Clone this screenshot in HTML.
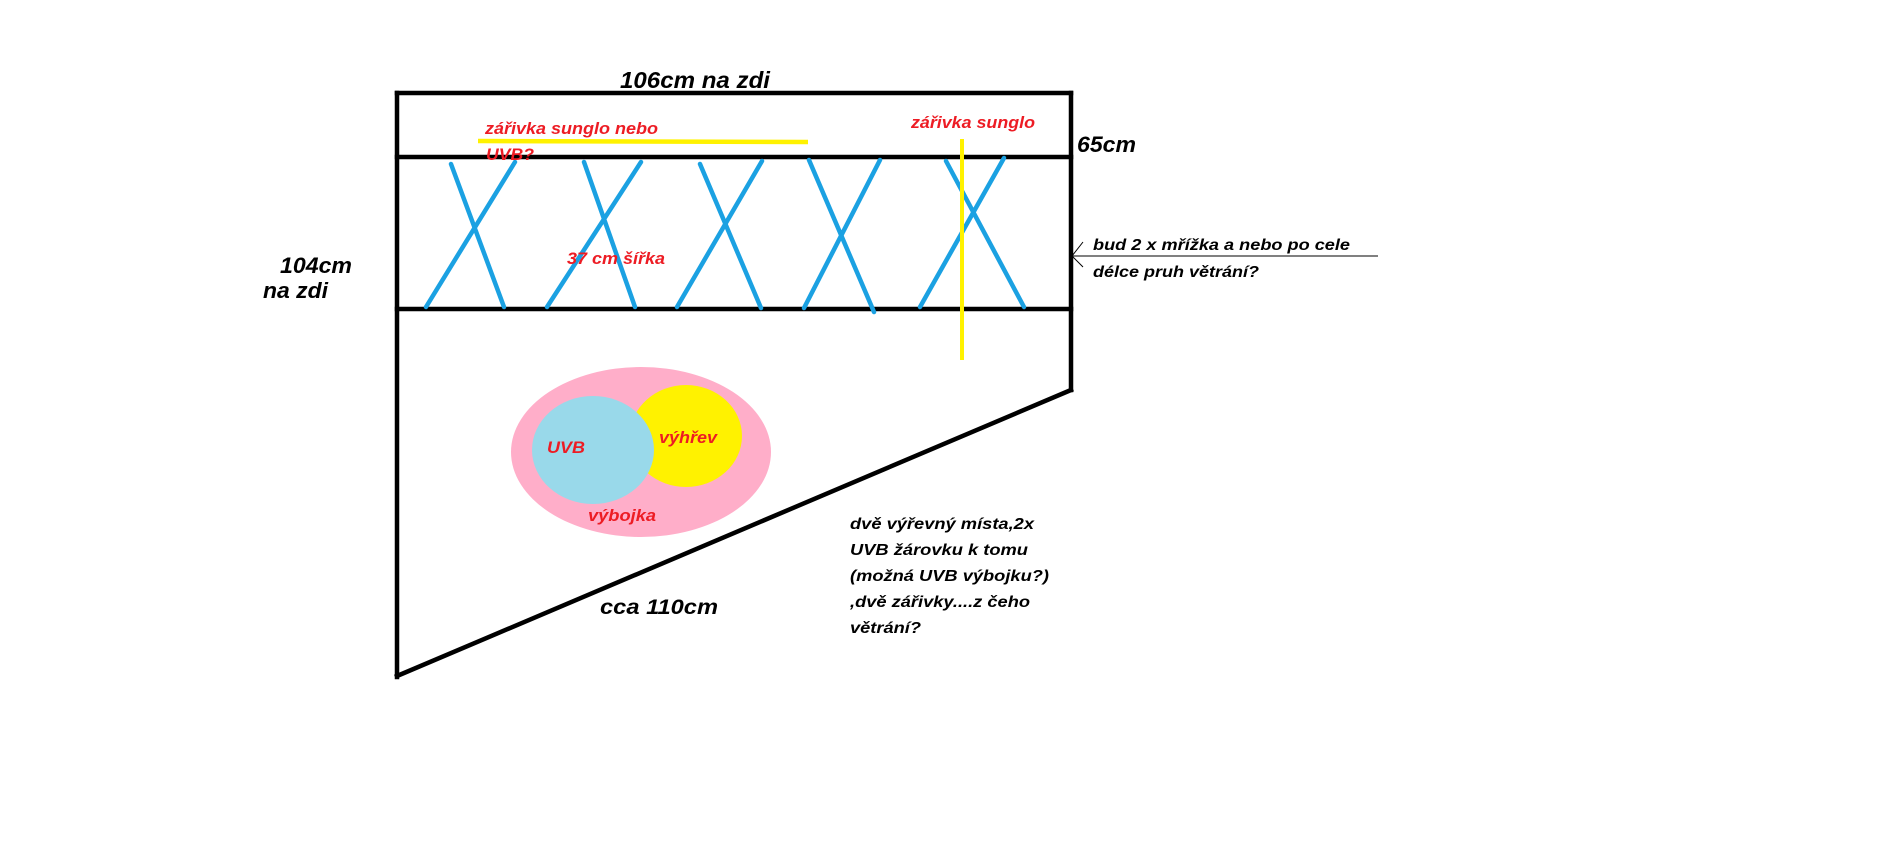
<!DOCTYPE html>
<html><head><meta charset="utf-8"><style>
html,body{margin:0;padding:0;background:#fff;}
svg{display:block}
text{font-family:"Liberation Sans",sans-serif;font-weight:bold;font-style:italic}
</style></head><body>
<svg width="1903" height="866" viewBox="0 0 1903 866" xmlns="http://www.w3.org/2000/svg">
<g stroke="#000" stroke-width="4.5" fill="none" stroke-linecap="square">
<line x1="397" y1="93" x2="1071" y2="93"/>
<line x1="397" y1="157" x2="1071" y2="157"/>
<line x1="397" y1="309" x2="1071" y2="309"/>
<line x1="397" y1="93" x2="397" y2="677"/>
<line x1="1071" y1="93" x2="1071" y2="390"/>
<line x1="1071" y1="390" x2="397" y2="676"/>
</g>
<g stroke="#1ba1e2" stroke-width="4.5" stroke-linecap="round">
<line x1="451" y1="164" x2="504" y2="307"/><line x1="515" y1="162" x2="426" y2="307"/>
<line x1="584" y1="162" x2="635" y2="307"/><line x1="641" y1="162" x2="547" y2="307"/>
<line x1="700" y1="164" x2="761" y2="308"/><line x1="762" y1="161" x2="677" y2="307"/>
<line x1="809" y1="160" x2="874" y2="312"/><line x1="880" y1="160" x2="804" y2="308"/>
<line x1="946" y1="161" x2="1024" y2="307"/><line x1="1004" y1="158" x2="920" y2="307"/>
</g>
<line x1="478" y1="141" x2="808" y2="142" stroke="#fff200" stroke-width="4.5"/>
<line x1="962" y1="139" x2="962" y2="360" stroke="#fff200" stroke-width="4"/>
<line x1="1072" y1="256" x2="1378" y2="256" stroke="#000" stroke-width="1"/>
<polyline points="1083,242 1072,256 1083,267" stroke="#000" stroke-width="1" fill="none"/>
<ellipse cx="641" cy="452" rx="130" ry="85" fill="#ffaec9"/>
<ellipse cx="686" cy="436" rx="56" ry="51" fill="#fff200"/>
<ellipse cx="593" cy="450" rx="61" ry="54" fill="#99d9ea"/>
<g fill="#000">
<text x="620" y="88" font-size="23" textLength="150" lengthAdjust="spacingAndGlyphs">106cm na zdi</text>
<text x="1077" y="152" font-size="22" textLength="59" lengthAdjust="spacingAndGlyphs">65cm</text>
<text x="280" y="273" font-size="22" textLength="72" lengthAdjust="spacingAndGlyphs">104cm</text>
<text x="263" y="298" font-size="22" textLength="65" lengthAdjust="spacingAndGlyphs">na zdi</text>
<text x="1093" y="250" font-size="16" textLength="257" lengthAdjust="spacingAndGlyphs">bud 2 x mřížka a nebo po cele</text>
<text x="1093" y="277" font-size="16" textLength="166" lengthAdjust="spacingAndGlyphs">délce pruh větrání?</text>
<text x="600" y="614" font-size="21" textLength="118" lengthAdjust="spacingAndGlyphs">cca 110cm</text>
<g font-size="16">
<text x="850" y="529" textLength="184" lengthAdjust="spacingAndGlyphs">dvě výřevný místa,2x</text>
<text x="850" y="555" textLength="178" lengthAdjust="spacingAndGlyphs">UVB žárovku k tomu</text>
<text x="850" y="581" textLength="199" lengthAdjust="spacingAndGlyphs">(možná UVB výbojku?)</text>
<text x="850" y="607" textLength="180" lengthAdjust="spacingAndGlyphs">,dvě zářivky....z čeho</text>
<text x="850" y="633" textLength="71" lengthAdjust="spacingAndGlyphs">větrání?</text>
</g>
</g>
<g fill="#ed1c24" font-size="17">
<text x="485" y="134" textLength="173" lengthAdjust="spacingAndGlyphs">zářivka sunglo nebo</text>
<text x="486" y="160" textLength="48" lengthAdjust="spacingAndGlyphs">UVB?</text>
<text x="911" y="128" textLength="124" lengthAdjust="spacingAndGlyphs">zářivka sunglo</text>
<text x="567" y="264" textLength="98" lengthAdjust="spacingAndGlyphs">37 cm šířka</text>
<text x="547" y="453" textLength="38" lengthAdjust="spacingAndGlyphs">UVB</text>
<text x="659" y="443" textLength="58" lengthAdjust="spacingAndGlyphs">výhřev</text>
<text x="588" y="521" textLength="68" lengthAdjust="spacingAndGlyphs">výbojka</text>
</g>
</svg>
</body></html>
